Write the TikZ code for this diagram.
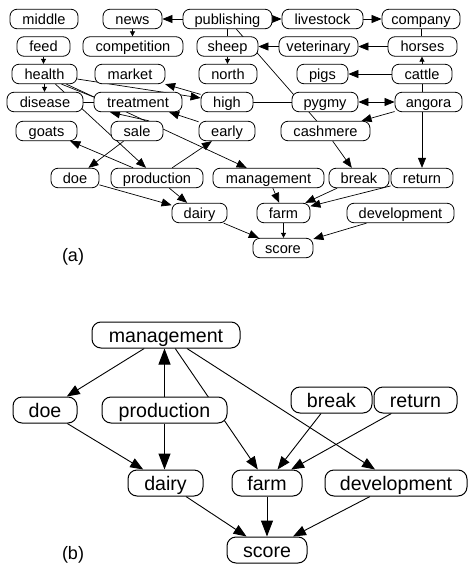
\documentclass[tikz,border=0pt]{standalone}
\usepackage{fontspec}
\setmainfont{Liberation Sans}
\usetikzlibrary{arrows.meta}
\pgfdeclarelayer{background}
\pgfsetlayers{background,main}
\begin{document}
\begin{tikzpicture}[x=1pt,y=-1pt,
  na/.style={draw, fill=white, rounded corners=7pt, minimum height=19.5pt,
    inner xsep=2pt, inner ysep=0pt, line width=0.8pt,
    font=\fontsize{14.6}{16}\selectfont, text height=10.7pt, text depth=0pt},
  nb/.style={draw, fill=white, rounded corners=9pt, minimum height=26pt,
    inner xsep=2pt, inner ysep=0pt, line width=1pt,
    font=\fontsize{19.6}{22}\selectfont, text height=14.3pt, text depth=0pt},
  ep/.style={line width=0.7pt},
  ea/.style={line width=0.7pt, -{Triangle[length=10pt,width=8pt]}},
  es/.style={line width=0.7pt, -{Triangle[length=5pt,width=5pt]}},
  ed/.style={line width=0.7pt, {Triangle[length=10pt,width=8pt]}-{Triangle[length=10pt,width=8pt]}},
  eb/.style={line width=0.9pt, -{Triangle[length=13pt,width=10pt]}},
  ebb/.style={line width=1pt, -{Triangle[length=16pt,width=12pt]}},
  lab/.style={font=\fontsize{18}{20}\selectfont}
]
\useasboundingbox (0,0) rectangle (468,565);

% ---------- graph (a) ----------
\node[na, minimum width=68]  (amiddle)      at (44,19)    {middle};
\node[na, minimum width=59]  (anews)        at (132.5,19) {news};
\node[na, minimum width=89]  (apublishing)  at (227.5,19) {publishing};
\node[na, minimum width=81]  (alivestock)   at (322.5,19) {livestock};
\node[na, minimum width=78]  (acompany)     at (421,19)   {company};

\node[na, minimum width=53]  (afeed)        at (43.5,46.5)  {feed};
\node[na, minimum width=100] (acompetition) at (133,46.5)   {competition};
\node[na, minimum width=61]  (asheep)       at (227.5,46.5) {sheep};
\node[na, minimum width=79]  (aveterinary)  at (318.5,46.5) {veterinary};
\node[na, minimum width=69]  (ahorses)      at (422.5,46.5) {horses};

\node[na, minimum width=65]  (ahealth)      at (44.5,74)  {health};
\node[na, minimum width=70]  (amarket)      at (130,74)   {market};
\node[na, minimum width=58]  (anorth)       at (228,74)   {north};
\node[na, minimum width=51]  (apigs)        at (322.5,74) {pigs};
\node[na, minimum width=60]  (acattle)      at (422,74)   {cattle};

\node[na, minimum width=76]  (adisease)     at (45,102)    {disease};
\node[na, minimum width=88]  (atreatment)   at (138,102)   {treatment};
\node[na, minimum width=52]  (ahigh)        at (227,102)   {high};
\node[na, minimum width=66]  (apygmy)       at (325,102)   {pygmy};
\node[na, minimum width=67]  (aangora)      at (428.5,102) {angora};

\node[na, minimum width=61]  (agoats)       at (46.5,131)  {goats};
\node[na, minimum width=52]  (asale)        at (137,131)   {sale};
\node[na, minimum width=56]  (aearly)       at (227,131)   {early};
\node[na, minimum width=89]  (acashmere)    at (325.5,131) {cashmere};

\node[na, minimum width=48]  (adoe)         at (75,178)    {doe};
\node[na, minimum width=92]  (aproduction)  at (157,178)   {production};
\node[na, minimum width=111] (amanagement)  at (268.5,178) {management};
\node[na, minimum width=60]  (abreak)       at (359,178)   {break};
\node[na, minimum width=62]  (areturn)      at (422,178)   {return};

\node[na, minimum width=55]  (adairy)       at (199.5,213) {dairy};
\node[na, minimum width=53]  (afarm)        at (283.5,213) {farm};
\node[na, minimum width=107] (adevelopment) at (400.5,213) {development};

\node[na, minimum width=60]  (ascore)       at (283,248)   {score};

\node[lab] (alabel) at (73,256.5) {(a)};

\begin{pgfonlayer}{background}
  \draw[ea] (apublishing) -- (anews);
  \draw[es] (anews.south) -- (anews.south |- acompetition.north);
  \draw[ea] (apublishing) -- (alivestock);
  \draw[ea] (alivestock) -- (acompany);
  \draw[ep] (apublishing.south) -- (asheep.north);
  \draw[ep] (apublishing) -- (acashmere);
  \draw[ea] (aveterinary) -- (asheep);
  \draw[ea] (ahorses) -- (aveterinary);
  \draw[ep] (acompany.south) -- (acompany.south |- ahorses.north);
  \draw[es] (acattle.north) -- (acattle.north |- ahorses.south);
  \draw[ea] (acattle) -- (apigs);
  \draw[ep] (acattle.south) -- (acattle.south |- aangora.north);
  \draw[es] (asheep.south) -- (asheep.south |- anorth.north);
  \draw[ed] (apygmy) -- (aangora);
  \draw[ea] (aangora) -- (acashmere);
  \draw[ea] (aangora.south -| areturn.north) -- (areturn.north);
  \draw[ep] (ahigh) -- (apygmy);
  \draw[es] (afeed.south) -- (afeed.south |- ahealth.north);
  \draw[es] (ahealth.south) -- (ahealth.south |- adisease.north);
  \draw[ep] (adisease) -- (atreatment);
  \draw[ep] ([xshift=17pt]ahealth.south) -- ([yshift=5pt]atreatment.west);
  \draw[ea] (ahealth) -- (amanagement);
  \draw[ea] (ahealth) -- (aproduction);
  \draw[ea] (ahealth) -- (ahigh);
  \draw[ea] (ahigh) -- (amarket);
  \draw[ea] (aearly) -- (atreatment);
  \draw[ea] ([xshift=12pt]asale.north) -- ([xshift=-28pt]atreatment.south);
  \draw[ea] (asale) -- (adoe);
  \draw[ea] (aproduction) -- (agoats);
  \draw[ea] (aproduction) -- (aearly);
  \draw[ea] (aproduction) -- (adairy);
  \draw[ea] (adoe) -- (adairy);
  \draw[ea] (adairy) -- (ascore);
  \draw[ea] (amanagement) -- (afarm);
  \draw[ea] (abreak) -- (afarm);
  \draw[ea] (areturn) -- (afarm);
  \draw[ea] (acashmere) -- (abreak);
  \draw[es] (afarm.south) -- (afarm.south |- ascore.north);
  \draw[ea] (adevelopment) -- (ascore);
\end{pgfonlayer}

% ---------- graph (b) ----------
\node[nb, minimum width=148] (bmanagement)  at (166,335)   {management};
\node[nb, minimum width=64]  (bdoe)         at (45,410)    {doe};
\node[nb, minimum width=125] (bproduction)  at (164.5,410) {production};
\node[nb, minimum width=81]  (bbreak)       at (331.5,400) {break};
\node[nb, minimum width=83]  (breturn)      at (415.5,400) {return};
\node[nb, minimum width=75]  (bdairy)       at (165.5,483) {dairy};
\node[nb, minimum width=70]  (bfarm)        at (267,483)   {farm};
\node[nb, minimum width=142] (bdevelopment) at (396,483)   {development};
\node[nb, minimum width=80]  (bscore)       at (267,550)   {score};

\node[lab] (blabel) at (73,555) {(b)};

\begin{pgfonlayer}{background}
  \draw[eb]  (bmanagement) -- (bdoe);
  \draw[ebb] (bproduction.north) -- (bproduction.north |- bmanagement.south);
  \draw[ebb] (bproduction.south) -- (bproduction.south |- bdairy.north);
  \draw[eb]  (bmanagement) -- (bfarm);
  \draw[eb]  (bmanagement) -- (bdevelopment);
  \draw[eb]  (bdoe) -- (bdairy);
  \draw[eb]  (bbreak) -- (bfarm);
  \draw[eb]  (breturn) -- (bfarm);
  \draw[ebb] (bfarm.south) -- (bfarm.south |- bscore.north);
  \draw[eb]  (bdairy) -- (bscore);
  \draw[eb]  (bdevelopment) -- (bscore);
\end{pgfonlayer}
\end{tikzpicture}
\end{document}
